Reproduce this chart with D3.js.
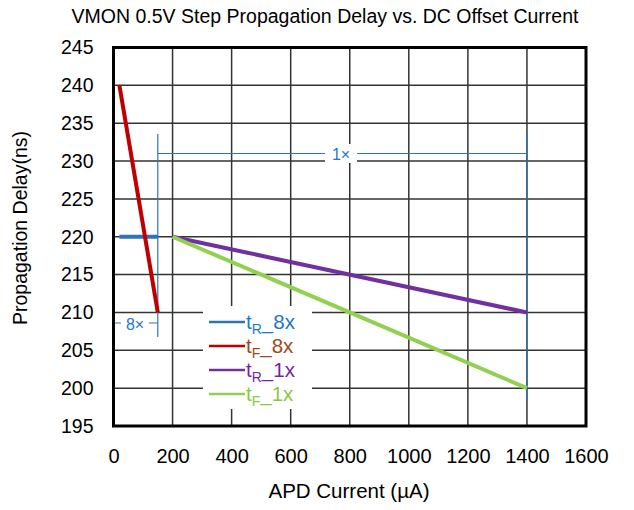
<!DOCTYPE html>
<html><head><meta charset="utf-8">
<script src="https://cdn.jsdelivr.net/npm/d3@7"></script>
<style>body{margin:0;background:#fff}svg{display:block;font-family:"Liberation Sans",Arial,sans-serif}</style>
</head><body><svg id="c" width="634" height="510"></svg>
<script>
const xTicks = [0,200,400,600,800,1000,1200,1400,1600];
const yTicks = [195,200,205,210,215,220,225,230,235,240,245];
const seriesNames = ["tR_8x","tF_8x","tR_1x","tF_1x"];
const seriesColors = ["#2e75b6","#c00000","#7030a0","#92d050"];
const labelColors = ["#1f77c8","#a0481c","#7a1fa0","#8dc63f"];
const tR8x = [[20,220],[150,220]];
const tF8x = [[20,240],[150,210]];
const tR1x = [[200,220],[1400,210]];
const tF1x = [[200,220],[1400,200]];
const seriesData = [tR8x,tF8x,tR1x,tF1x];

const svg = d3.select("#c");
const x = d3.scaleLinear().domain([0,1600]).range([113.5,586]);
const y = d3.scaleLinear().domain([195,245]).range([426,47.5]);

// grid
svg.append("g").selectAll("line").data(xTicks.slice(1,-1)).join("line")
  .attr("x1",d=>x(d)).attr("x2",d=>x(d)).attr("y1",y(245)).attr("y2",y(195))
  .attr("stroke","#333").attr("stroke-width",1.5);
svg.append("g").selectAll("line").data(yTicks.slice(1,-1)).join("line")
  .attr("y1",d=>y(d)).attr("y2",d=>y(d)).attr("x1",x(0)).attr("x2",x(1600))
  .attr("stroke","#333").attr("stroke-width",1.5);

// axes labels
svg.append("g").attr("transform",`translate(0,${y(195)})`)
  .call(d3.axisBottom(x).tickValues(xTicks).tickFormat(d3.format("d")).tickSize(0).tickPadding(23))
  .call(g=>{g.select(".domain").remove();g.selectAll("text").attr("font-size",20).attr("font-family","Liberation Sans, Arial").attr("fill","#000");});
svg.append("g").attr("transform",`translate(${x(0)},0)`)
  .call(d3.axisLeft(y).tickValues(yTicks).tickSize(0).tickPadding(20))
  .call(g=>{g.select(".domain").remove();g.selectAll("text").attr("font-size",19.5).attr("font-family","Liberation Sans, Arial").attr("fill","#000");});

// annotations
const ann = svg.append("g").attr("stroke","#2e75b6").attr("stroke-width",1.2).attr("fill","none");
ann.append("line").attr("x1",x(1400)).attr("x2",x(1400)).attr("y1",133).attr("y2",401);
ann.append("line").attr("x1",x(150)).attr("x2",x(150)).attr("y1",134).attr("y2",337);
ann.append("line").attr("x1",x(150)).attr("x2",x(1400)).attr("y1",153.5).attr("y2",153.5);
ann.append("line").attr("x1",x(0)).attr("x2",x(150)).attr("y1",323).attr("y2",323);
// label boxes
svg.append("rect").attr("x",325).attr("y",144).attr("width",32).attr("height",19).attr("fill","#fff");
svg.append("text").attr("x",341).attr("y",159.5).attr("text-anchor","middle").attr("font-size",16).attr("fill","#1f77c8").text("1×");
svg.append("rect").attr("x",121).attr("y",314).attr("width",28).attr("height",19).attr("fill","#fff");
svg.append("text").attr("x",135).attr("y",329.5).attr("text-anchor","middle").attr("font-size",16).attr("fill","#1f77c8").text("8×");

// series
const line = d3.line().x(d=>x(d[0])).y(d=>y(d[1]));
seriesData.forEach((s,i)=>{
  svg.append("path").datum(s).attr("d",line).attr("fill","none")
    .attr("stroke",seriesColors[i]).attr("stroke-width",4);
});

// legend
const lg = svg.append("g");
lg.append("rect").attr("x",203).attr("y",306).attr("width",109).attr("height",103).attr("fill","#fff");
seriesNames.forEach((n,i)=>{
  const yy = 322 + i*24;
  lg.append("line").attr("x1",209).attr("x2",245).attr("y1",yy).attr("y2",yy)
    .attr("stroke",seriesColors[i]).attr("stroke-width",2.5);
  const parts = n.split("_");
  const t = lg.append("text").attr("x",246).attr("y",yy+7).attr("font-size",20.5).attr("fill",labelColors[i]);
  t.append("tspan").text(parts[0][0]);
  t.append("tspan").attr("font-size",14).attr("dy",5).text(parts[0].slice(1));
  t.append("tspan").attr("dy",-5).text("_"+parts[1]);
});

// border
svg.append("rect").attr("x",x(0)).attr("y",y(245)).attr("width",x(1600)-x(0)).attr("height",y(195)-y(245))
  .attr("fill","none").attr("stroke","#000").attr("stroke-width",3);

// titles
svg.append("text").attr("x",325).attr("y",23).attr("text-anchor","middle").attr("font-size",19.5).text("VMON 0.5V Step Propagation Delay vs. DC Offset Current");
svg.append("text").attr("x",349).attr("y",498).attr("text-anchor","middle").attr("font-size",20.5).text("APD Current (µA)");
svg.append("text").attr("transform","translate(27,228) rotate(-90)").attr("text-anchor","middle").attr("font-size",19.5).text("Propagation Delay(ns)");
</script></body></html>
